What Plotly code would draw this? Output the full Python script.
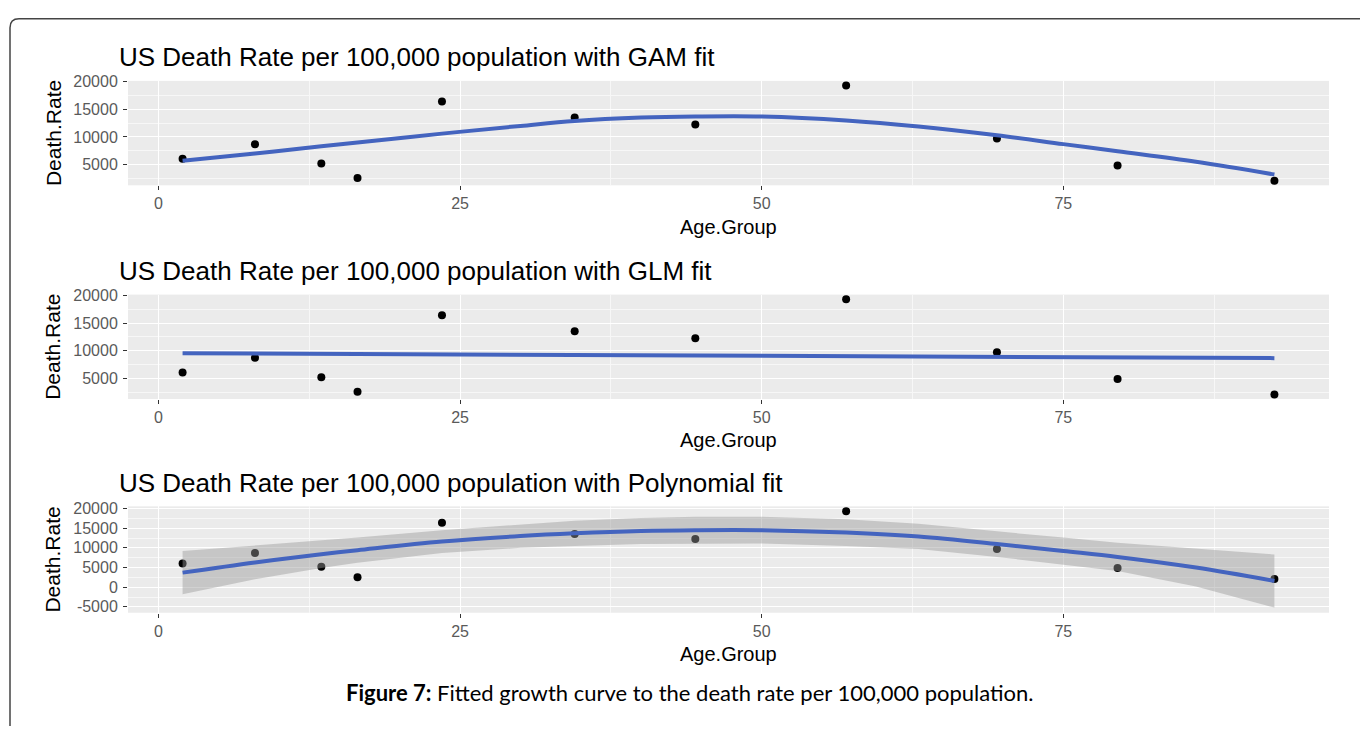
import plotly.graph_objects as go

# ---------------- data ----------------
age = [2, 8, 13.5, 16.5, 23.5, 34.5, 44.5, 57, 69.5, 79.5, 92.5]
death_rate = [6050, 8700, 5200, 2550, 16400, 13500, 12250, 19300, 9700, 4850, 2050]

gam_x = [2, 8, 13.5, 16.5, 23.5, 30, 34.5, 40, 44.5, 50, 57, 63, 69.5, 75, 79.5, 86, 92.5]
gam_y = [5700, 7000, 8300, 9000, 10600, 12000, 12900, 13500, 13700, 13700, 13000, 11900, 10300, 8700, 7400, 5500, 3200]

glm_x = [2, 92.5]
glm_y = [9550, 8650]

poly_x = [2, 8, 13.5, 16.5, 23.5, 30, 34.5, 40, 44.5, 50, 57, 63, 69.5, 75, 79.5, 86, 92.5]
poly_y = [3700, 6300, 8400, 9400, 11600, 13000, 13700, 14300, 14500, 14500, 13900, 12900, 11000, 9200, 7700, 5000, 1600]
poly_hi = [9200, 10600, 11900, 12600, 14500, 16000, 16900, 17600, 17900, 17900, 17300, 16100, 14300, 12600, 11300, 9800, 8300]
poly_lo = [-1800, 2000, 4900, 6200, 8700, 10000, 10500, 11000, 11100, 11100, 10500, 9700, 7700, 5800, 4100, 200, -5200]

titles = ["US Death Rate per 100,000 population with GAM fit",
          "US Death Rate per 100,000 population with GLM fit",
          "US Death Rate per 100,000 population with Polynomial fit"]
x_ticks = [0, 25, 50, 75]
y_ticks_top = [5000, 10000, 15000, 20000]
y_ticks_poly = [-5000, 0, 5000, 10000, 15000, 20000]
caption_bold = "Figure 7:"
caption_text = " Fitted growth curve to the death rate per 100,000 population."

# ---------------- layout helpers ----------------
W, H = 1360, 729
def px(x):
    return x / W
def py(y):
    return 1 - y / H

panel_x = [128, 1329]
panels_y = [(74, 180), (291, 397), (506, 614)]
yranges = [[1250, 20150], [1250, 20150], [-6500, 20550]]
xrange_ = [-2.525, 97.025]

LINE_BLUE = "#4464BF"
FONT = "Liberation Sans, Arial, sans-serif"

fig = go.Figure()

for i in range(3):
    xa = "x" if i == 0 else f"x{i+1}"
    ya = "y" if i == 0 else f"y{i+1}"
    fig.add_trace(go.Scatter(x=age, y=death_rate, mode="markers",
                             marker=dict(color="black", size=8),
                             xaxis=xa, yaxis=ya, showlegend=False, hoverinfo="skip"))
    if i == 0:
        fig.add_trace(go.Scatter(x=gam_x, y=gam_y, mode="lines", line=dict(color=LINE_BLUE, width=4, shape="spline"),
                                 xaxis=xa, yaxis=ya, showlegend=False))
    elif i == 1:
        fig.add_trace(go.Scatter(x=glm_x, y=glm_y, mode="lines", line=dict(color=LINE_BLUE, width=4),
                                 xaxis=xa, yaxis=ya, showlegend=False))
    else:
        fig.add_trace(go.Scatter(x=poly_x + poly_x[::-1], y=poly_hi + poly_lo[::-1], mode="lines",
                                 fill="toself", fillcolor="rgba(153,153,153,0.45)",
                                 line=dict(width=0), xaxis=xa, yaxis=ya, showlegend=False))
        fig.add_trace(go.Scatter(x=poly_x, y=poly_y, mode="lines", line=dict(color=LINE_BLUE, width=4, shape="spline"),
                                 xaxis=xa, yaxis=ya, showlegend=False))

layout = dict(width=W, height=H, margin=dict(l=0, r=0, t=0, b=0),
              paper_bgcolor="white", plot_bgcolor="#EBEBEB", showlegend=False,
              font=dict(family=FONT))

annotations = []
for i in range(3):
    top, bot = panels_y[i]
    xk = "xaxis" if i == 0 else f"xaxis{i+1}"
    yk = "yaxis" if i == 0 else f"yaxis{i+1}"
    layout[xk] = dict(domain=[px(panel_x[0]), px(panel_x[1])], range=xrange_,
                      anchor="y" if i == 0 else f"y{i+1}",
                      tickvals=x_ticks, ticks="outside", ticklen=4, tickwidth=1.3, tickcolor="#333333",
                      tickfont=dict(size=16, color="#5a5a5a", family=FONT),
                      showgrid=True, gridcolor="white", gridwidth=1.3, zeroline=False, showline=False,
                      minor=dict(dtick=12.5, tick0=0, showgrid=True, gridcolor="#F7F7F7", gridwidth=0.7))
    yt = y_ticks_poly if i == 2 else y_ticks_top
    layout[yk] = dict(domain=[py(bot), py(top)], range=yranges[i],
                      anchor="x" if i == 0 else f"x{i+1}",
                      tickvals=yt, ticktext=[str(v) for v in yt],
                      ticks="outside", ticklen=4, tickwidth=1.3, tickcolor="#333333",
                      tickfont=dict(size=16, color="#5a5a5a", family=FONT), ticklabelstandoff=2,
                      showgrid=True, gridcolor="white", gridwidth=1.3, zeroline=False, showline=False,
                      minor=dict(dtick=2500, tick0=0, showgrid=True, gridcolor="#F7F7F7", gridwidth=0.7))
    annotations.append(dict(text=titles[i], x=px(117), y=py(top - 24), xref="paper", yref="paper",
                            xanchor="left", yanchor="middle", showarrow=False,
                            font=dict(size=26, color="black", family=FONT)))
    annotations.append(dict(text="Age.Group", x=px((panel_x[0] + panel_x[1]) / 2), y=py(bot + 42),
                            xref="paper", yref="paper", xanchor="center", yanchor="middle", showarrow=False,
                            font=dict(size=20, color="black", family=FONT)))
    annotations.append(dict(text="Death.Rate", x=px(53), y=py((top + bot) / 2), xref="paper", yref="paper",
                            xanchor="center", yanchor="middle", textangle=-90, showarrow=False,
                            font=dict(size=21, color="black", family=FONT)))

annotations.append(dict(text=f"<b>{caption_bold}</b>{caption_text}", x=px(690), y=py(695),
                        xref="paper", yref="paper", xanchor="center", yanchor="middle", showarrow=False,
                        font=dict(size=22, color="black", family="Lato, Open Sans, sans-serif")))
layout["annotations"] = annotations

frame_path = (f"M {px(10)},{py(729)} L {px(10)},{py(20)} Q {px(10)},{py(11)} {px(19)},{py(11)} "
              f"L {px(1360)},{py(11)}")
layout["shapes"] = [dict(type="path", path=frame_path, xref="paper", yref="paper",
                         line=dict(color="#444444", width=1.5))]

fig.update_layout(**layout)
fig.write_html("out.html")
